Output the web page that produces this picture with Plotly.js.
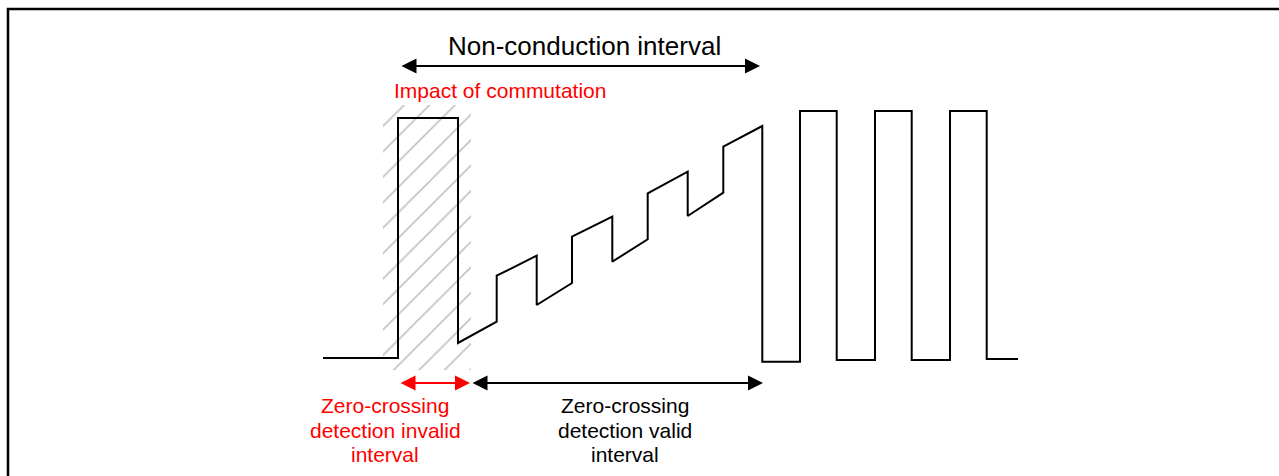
<!DOCTYPE html>
<html>
<head>
<meta charset="utf-8">
<script src="https://cdn.plot.ly/plotly-3.0.1.min.js"></script>
<style>
  html, body { margin: 0; padding: 0; background: #ffffff; }
  #chart { width: 1279px; height: 476px; }
</style>
</head>
<body>
<div id="chart"></div>
<script>
// Waveform (time, level) (level axis: larger = lower on screen)
const waveT = [323, 398, 398, 458, 458, 496.7, 496.7, 536.7, 536.7, 572, 572, 612.3, 612.3, 647.7, 647.7, 687.7, 687.7, 723.3, 723.3, 762.3, 762.3, 800, 800, 836.7, 836.7, 875, 875, 911.7, 911.7, 950, 950, 986.7, 986.7, 1018];
const waveV = [358, 358, 118, 118, 343, 321.7, 275.7, 255.7, 305, 283, 236.7, 216.7, 261.7, 239.3, 193.3, 171.7, 216, 192.7, 146.7, 126, 361.7, 361.7, 111, 111, 360, 360, 111, 111, 360, 360, 111, 111, 359, 359];

// Commutation impact (hatched) region
const hatchT = [383, 471, 471, 383, 383];
const hatchV = [105, 105, 370, 370, 105];

// Labels
const topLabel = "Non-conduction interval";
const impactLabel = "Impact of commutation";
const invalidLines = ["Zero-crossing", "detection invalid", "interval"];
const validLines = ["Zero-crossing", "detection valid", "interval"];

const FONT = "Liberation Sans, Arial, Helvetica, sans-serif";

const traces = [
  {
    x: hatchT, y: hatchV, type: "scatter", mode: "lines",
    fill: "toself", fillcolor: "rgba(0,0,0,0)",
    fillpattern: { shape: "/", size: 18, solidity: 0.09, fgcolor: "#c2c2c2", bgcolor: "rgba(0,0,0,0)" },
    line: { width: 0, color: "rgba(0,0,0,0)" },
    hoverinfo: "skip", showlegend: false
  },
  {
    x: waveT, y: waveV, type: "scatter", mode: "lines",
    line: { color: "#000000", width: 2 },
    hoverinfo: "skip", showlegend: false
  }
];

function dblArrow(x0, x1, y, color) {
  return {
    x: x1, y: y, ax: x0, ay: y, axref: "x", ayref: "y", xref: "x", yref: "y",
    text: "", showarrow: true, arrowcolor: color,
    arrowhead: 2, startarrowhead: 2, arrowside: "end+start",
    arrowwidth: 2, arrowsize: 1.5, startarrowsize: 1.5,
    standoff: 0, startstandoff: 0
  };
}
function label(text, x, y, size, color) {
  return {
    x: x, y: y, xref: "x", yref: "y", text: text, showarrow: false,
    xanchor: "center", yanchor: "middle",
    font: { family: FONT, size: size, color: color }
  };
}

const annotations = [
  dblArrow(400, 760, 66, "#000000"),
  dblArrow(399, 470, 383, "#ff0000"),
  dblArrow(471, 763, 383, "#000000"),
  label(topLabel, 584, 46, 26, "#000000"),
  label(impactLabel, 500, 90, 21, "#ff0000")
];
const lineY = [405.5, 430, 454.5];
invalidLines.forEach((t, i) => annotations.push(label(t, 385, lineY[i], 21, "#ff0000")));
validLines.forEach((t, i) => annotations.push(label(t, 625, lineY[i], 21, "#000000")));

const layout = {
  width: 1279, height: 476,
  margin: { l: 0, r: 0, t: 0, b: 0, pad: 0 },
  paper_bgcolor: "#ffffff", plot_bgcolor: "#ffffff",
  xaxis: { range: [0, 1279], visible: false, showgrid: false, zeroline: false, fixedrange: true },
  yaxis: { range: [476, 0], visible: false, showgrid: false, zeroline: false, fixedrange: true },
  showlegend: false,
  annotations: annotations,
  shapes: [
    { type: "rect", xref: "x", yref: "y", x0: 8, x1: 1300, y0: 9, y1: 500,
      line: { color: "#000000", width: 2.5 }, fillcolor: "rgba(0,0,0,0)", layer: "above" }
  ]
};

Plotly.newPlot("chart", traces, layout, { staticPlot: true, displayModeBar: false });
</script>
</body>
</html>
